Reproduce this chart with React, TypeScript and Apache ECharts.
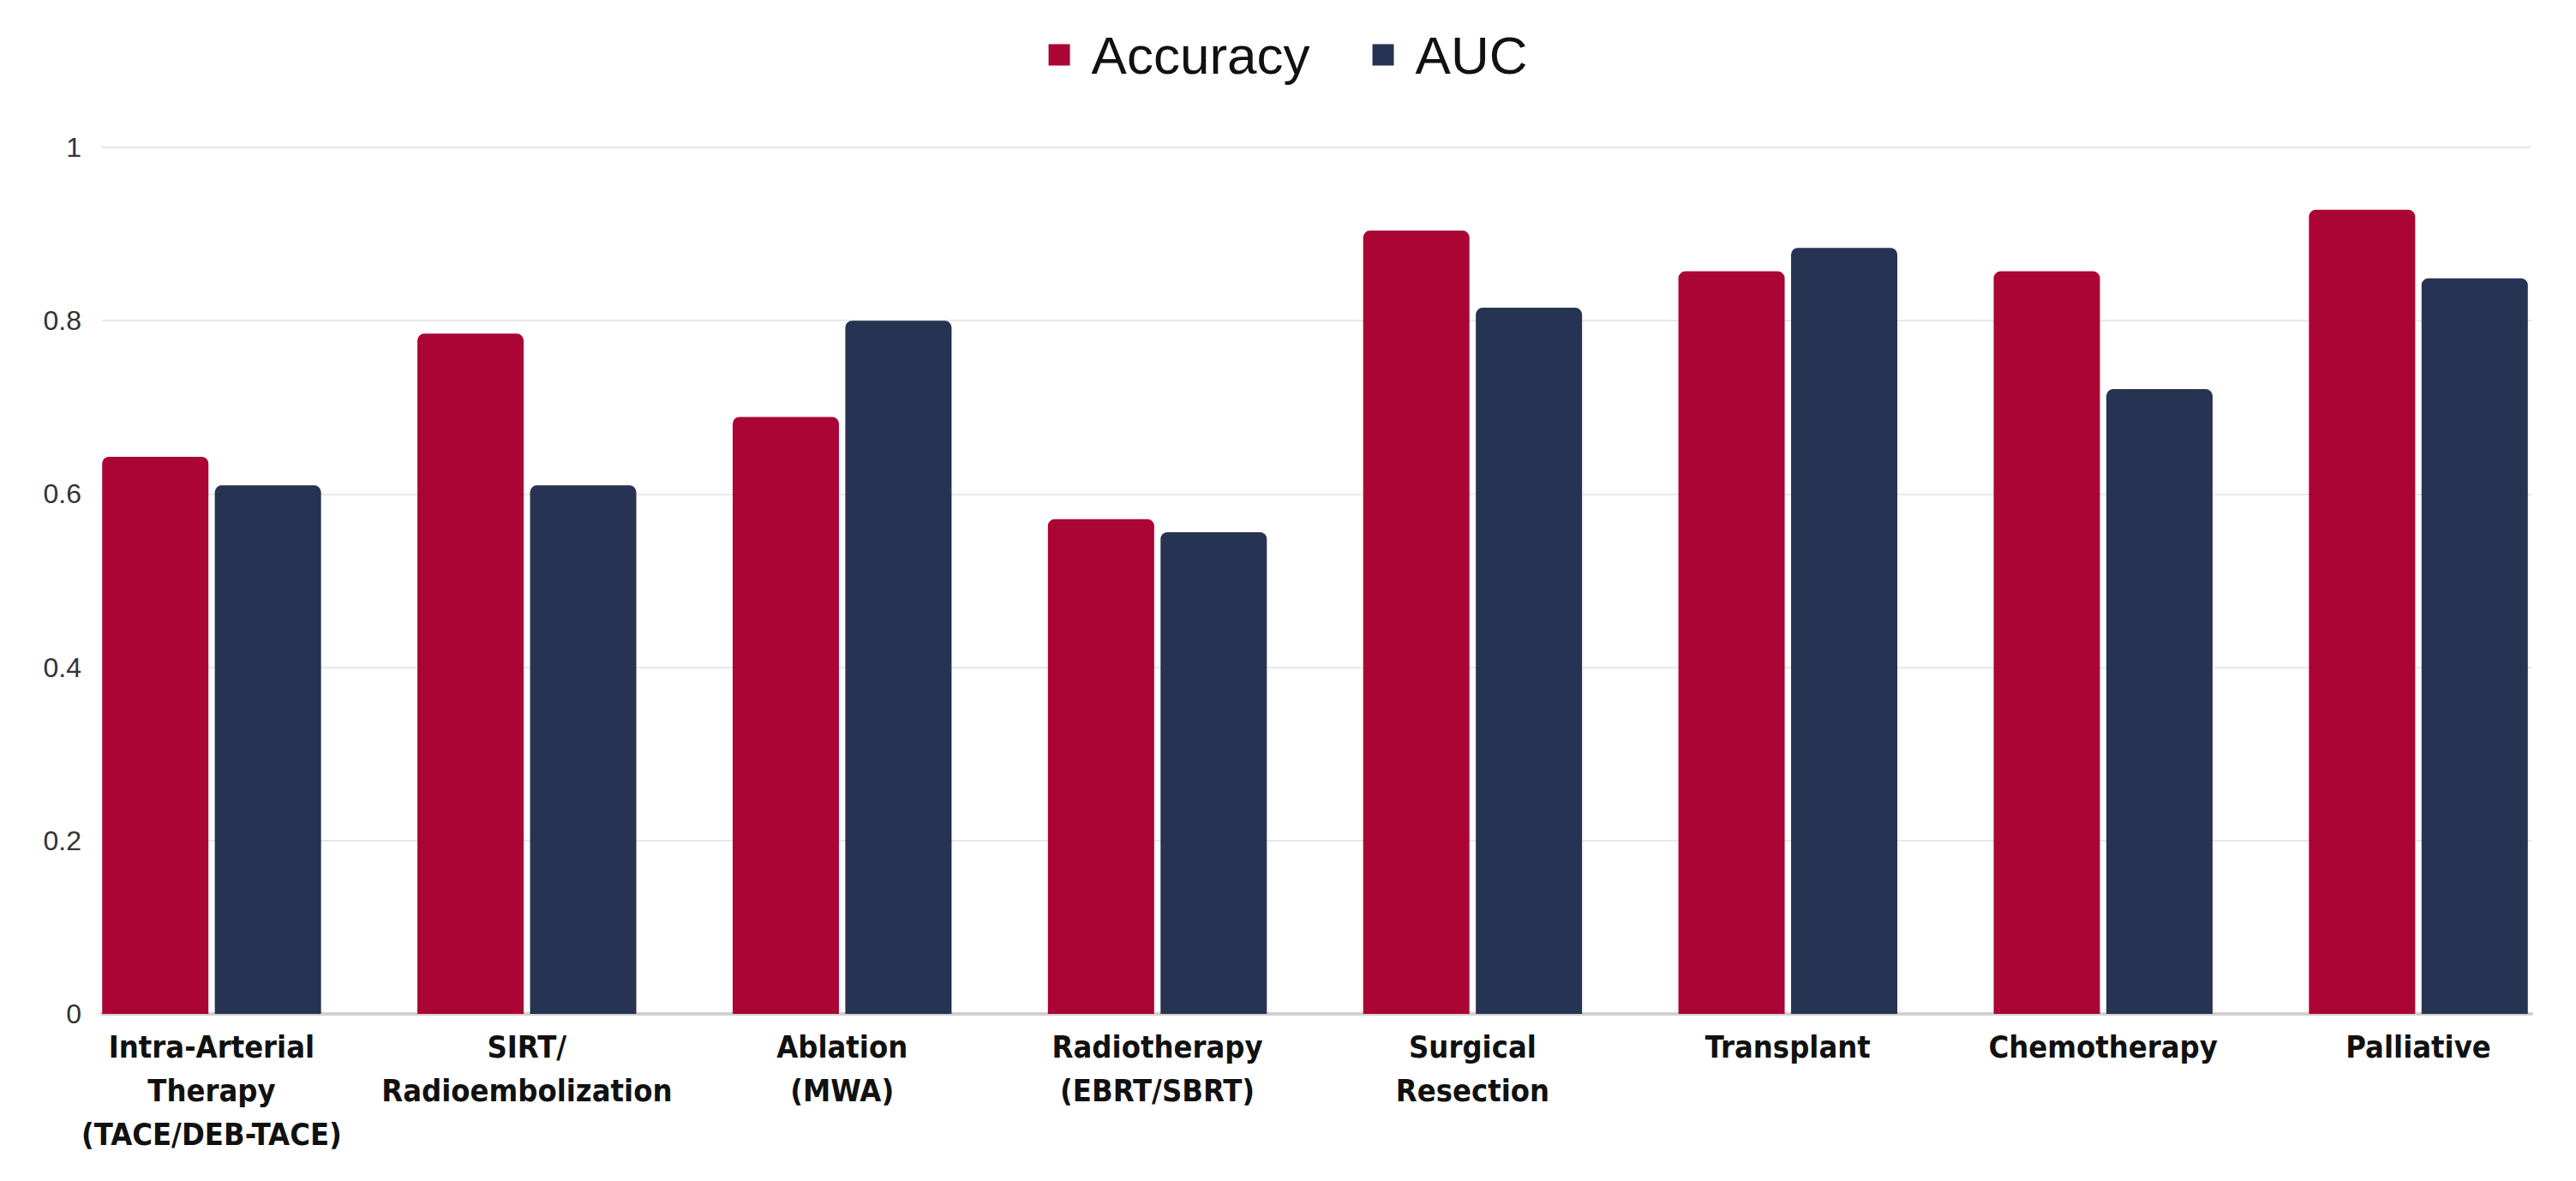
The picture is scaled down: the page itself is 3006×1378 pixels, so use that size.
import React, { useEffect, useRef } from "react";
import * as echarts from "echarts";

const categories = [
  "Intra-Arterial\nTherapy\n(TACE/DEB-TACE)",
  "SIRT/\nRadioembolization",
  "Ablation\n(MWA)",
  "Radiotherapy\n(EBRT/SBRT)",
  "Surgical\nResection",
  "Transplant",
  "Chemotherapy",
  "Palliative",
];
const accuracy = [0.643, 0.785, 0.689, 0.571, 0.904, 0.857, 0.857, 0.928];
const auc = [0.61, 0.61, 0.8, 0.556, 0.815, 0.884, 0.721, 0.849];
const yTicks = [0, 0.2, 0.4, 0.6, 0.8, 1];

const RED = "#aa0535";
const NAVY = "#273352";
const NARROW = "'Liberation Sans Narrow', 'DejaVu Sans Condensed', 'Roboto', sans-serif";

export default function App() {
  const ref = useRef<HTMLDivElement>(null);
  useEffect(() => {
    if (!ref.current) return;
    const chart = echarts.init(ref.current, undefined, { renderer: "svg" });
    chart.setOption({
      animation: false,
      backgroundColor: "#ffffff",
      legend: {
        top: 28,
        left: "center",
        icon: "rect",
        itemWidth: 25,
        itemHeight: 25,
        itemGap: 73,
        textStyle: {
          fontFamily: "'Liberation Sans', Arial, sans-serif",
          fontSize: 62,
          color: "#111111",
          padding: [0, 0, 0, 20],
        },
        data: ["Accuracy", "AUC"],
      },
      grid: [
        { left: 119, right: 52, top: 172, bottom: 195 },
        { left: 63, right: -4, top: 172, bottom: 195 },
      ],
      xAxis: [
        {
          type: "value",
          gridIndex: 0,
          min: 0,
          max: 1,
          axisLine: { show: true, lineStyle: { color: "#d0d0d0", width: 4 } },
          axisTick: { show: false },
          axisLabel: { show: false },
          splitLine: { show: false },
        },
        {
          type: "category",
          gridIndex: 1,
          data: categories,
          axisLine: { show: false },
          axisTick: { show: false },
          axisLabel: {
            interval: 0,
            margin: 13,
            fontFamily: NARROW,
            fontWeight: "bold",
            fontSize: 36,
            lineHeight: 51,
            color: "#111111",
            align: "center",
          },
        },
      ],
      yAxis: [
        {
          type: "value",
          gridIndex: 0,
          min: yTicks[0],
          max: yTicks[yTicks.length - 1],
          interval: 0.2,
          axisLine: { show: false },
          axisTick: { show: false },
          axisLabel: {
            margin: 24,
            fontFamily: "'Liberation Sans', Arial, sans-serif",
            fontSize: 32,
            color: "#333333",
            formatter: (v: number) => String(Math.round(v * 10) / 10),
          },
          splitLine: { show: true, lineStyle: { color: "#e8e8e8", width: 2 } },
        },
        {
          type: "value",
          gridIndex: 1,
          min: 0,
          max: 1,
          show: false,
          splitLine: { show: false },
        },
      ],
      series: [
        {
          name: "Accuracy",
          type: "bar",
          xAxisIndex: 1,
          yAxisIndex: 1,
          data: accuracy,
          barWidth: 124,
          barGap: "6%",
          itemStyle: { color: RED, borderRadius: [8, 8, 0, 0] },
        },
        {
          name: "AUC",
          type: "bar",
          xAxisIndex: 1,
          yAxisIndex: 1,
          data: auc,
          barWidth: 124,
          barGap: "6%",
          itemStyle: { color: NAVY, borderRadius: [8, 8, 0, 0] },
        },
      ],
    });
    return () => chart.dispose();
  }, []);
  return (
    <div
      ref={ref}
      style={{ position: "fixed", left: 0, top: 0, width: 3006, height: 1378, background: "#fff" }}
    />
  );
}
